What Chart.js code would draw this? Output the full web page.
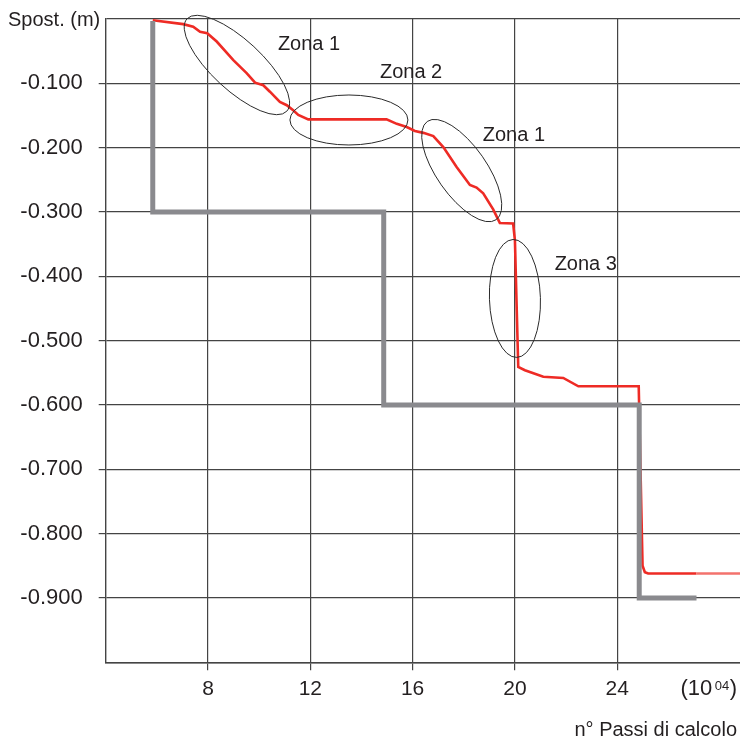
<!DOCTYPE html>
<html>
<head>
<meta charset="utf-8">
<script src="https://cdn.jsdelivr.net/npm/chart.js@4/dist/chart.umd.min.js"></script>
<style>
  html, body { margin: 0; padding: 0; background: #ffffff; }
  #wrap { width: 740px; height: 742px; }
</style>
</head>
<body>
<div id="wrap"><canvas id="c" width="740" height="742"></canvas></div>
<script>
// Computed displacement vs. calculation steps (x 10^4)
const computedSteps = [5.84, 7.03, 7.42, 7.69, 7.97, 8.34, 8.99, 9.51, 9.84, 10.16, 10.42, 10.81,
  11.08, 11.33, 11.53, 11.92, 14.98, 15.38, 15.77, 16.09, 16.42, 16.81, 17.20, 17.72, 18.24,
  18.50, 18.76, 19.15, 19.41, 19.93, 20.00, 20.13, 20.39, 21.11, 21.89, 22.48, 24.84, 24.99,
  25.08, 25.21, 27.10, 28.80];
const computedDisp = [-0.002, -0.008, -0.012, -0.020, -0.022, -0.035, -0.064, -0.084, -0.099,
  -0.103, -0.113, -0.129, -0.134, -0.142, -0.149, -0.156, -0.156, -0.163, -0.168, -0.174,
  -0.177, -0.182, -0.199, -0.230, -0.258, -0.262, -0.271, -0.296, -0.317, -0.318, -0.344,
  -0.541, -0.546, -0.556, -0.558, -0.571, -0.571, -0.850, -0.860, -0.862, -0.862, -0.862];

// Imposed displacement steps
const imposedSteps = [5.84, 5.84, 14.87, 14.87, 24.86, 24.86, 27.10];
const imposedDisp = [-0.003, -0.300, -0.300, -0.600, -0.600, -0.900, -0.900];

// Axis ticks
const xTickValues = [8, 12, 16, 20, 24];
const xTickLabels = ['8', '12', '16', '20', '24'];
const yTickValues = [0, -0.1, -0.2, -0.3, -0.4, -0.5, -0.6, -0.7, -0.8, -0.9, -1.0];
const yTickLabels = ['', '-0.100', '-0.200', '-0.300', '-0.400', '-0.500', '-0.600',
  '-0.700', '-0.800', '-0.900', ''];

// Zone annotations
const zoneNames = ['Zona 1', 'Zona 2', 'Zona 1', 'Zona 3'];

const zoneLayout = [
  { cx: 9.13,  cy: -0.0715, rx: 68, ry: 25, rot: 42.8, lx: 11.95, ly: -0.0482 },
  { cx: 13.51, cy: -0.157,  rx: 59, ry: 25, rot: 0,    lx: 15.94, ly: -0.0918 },
  { cx: 17.92, cy: -0.2356, rx: 60, ry: 25, rot: 55,   lx: 19.96, ly: -0.1893 },
  { cx: 20.00, cy: -0.4344, rx: 59, ry: 25.5, rot: 88.2, lx: 22.77, ly: -0.3904 }
];

const TEXT = '#231f20';
const GRID = '#444444';
const SANS = '"Liberation Sans", Arial, sans-serif';

const zonePlugin = {
  id: 'zones',
  afterDatasetsDraw(chart) {
    const { ctx, scales: { x, y } } = chart;
    ctx.save();
    ctx.strokeStyle = '#2a2a2a';
    ctx.lineWidth = 1;
    ctx.fillStyle = TEXT;
    ctx.font = '20px ' + SANS;
    ctx.textAlign = 'center';
    ctx.textBaseline = 'alphabetic';
    zoneLayout.forEach((z, i) => {
      const cx = x.getPixelForValue(z.cx);
      const cy = y.getPixelForValue(z.cy);
      ctx.beginPath();
      ctx.ellipse(cx, cy, z.rx, z.ry, z.rot * Math.PI / 180, 0, Math.PI * 2);
      ctx.stroke();
      ctx.fillText(zoneNames[i], x.getPixelForValue(z.lx), y.getPixelForValue(z.ly));
    });
    ctx.restore();
  },
  afterDraw(chart) {
    const { ctx, width } = chart;
    ctx.save();
    ctx.fillStyle = TEXT;
    ctx.textBaseline = 'alphabetic';
    // y axis title
    ctx.font = '20px ' + SANS;
    ctx.textAlign = 'left';
    ctx.fillText('Spost. (m)', 8, 26);
    // x unit: (10^04)
    ctx.textAlign = 'right';
    ctx.font = '22px ' + SANS;
    const right = width - 3;
    ctx.fillText(')', right, 695);
    const wClose = ctx.measureText(')').width;
    ctx.font = '13px ' + SANS;
    ctx.fillText('04', right - wClose - 0.5, 690);
    const wSup = ctx.measureText('04').width;
    ctx.font = '22px ' + SANS;
    ctx.fillText('(10', right - wClose - wSup - 3, 695);
    // x axis title
    ctx.font = '20px ' + SANS;
    ctx.fillText('n\u00b0 Passi di calcolo', right, 736);
    ctx.restore();
  }
};

new Chart(document.getElementById('c'), {
  type: 'line',
  data: {
    datasets: [
      {
        label: 'imposed',
        data: imposedSteps.map((s, i) => ({ x: s, y: imposedDisp[i] })),
        borderColor: '#8a8a8e',
        borderWidth: 5,
        pointRadius: 0,
        tension: 0,
        fill: false,
        order: 0
      },
      {
        label: 'computed',
        data: computedSteps.map((s, i) => ({ x: s, y: computedDisp[i] })),
        borderColor: '#ee2b25',
        borderWidth: 2.6,
        pointRadius: 0,
        tension: 0,
        fill: false,
        order: 1,
        segment: {
          borderColor: c => (c.p0.parsed.x >= 27.1 ? '#f3726c' : '#ee2b25')
        }
      }
    ]
  },
  options: {
    responsive: false,
    devicePixelRatio: 1,
    animation: false,
    events: [],
    layout: { padding: { top: 19, left: 0, right: 0, bottom: 0 } },
    plugins: { legend: { display: false }, tooltip: { enabled: false } },
    scales: {
      x: {
        type: 'linear',
        min: 4,
        max: 28.8,
        afterBuildTicks: s => { s.ticks = xTickValues.map(v => ({ value: v })); },
        afterFit: s => { s.height = 79.7; s.paddingLeft = 0; s.paddingRight = 0; },
        ticks: {
          autoSkip: false,
          maxRotation: 0,
          padding: 6,
          color: TEXT,
          font: { family: SANS, size: 21 },
          callback: v => xTickLabels[xTickValues.indexOf(v)]
        },
        grid: { color: GRID, lineWidth: 1.2, tickLength: 8, tickColor: GRID },
        border: { display: true, color: GRID, width: 1.4 }
      },
      y: {
        type: 'linear',
        min: -1.0,
        max: 0,
        afterBuildTicks: s => { s.ticks = yTickValues.map(v => ({ value: v })); },
        afterFit: s => { s.width = 105.7; s.paddingTop = 0; s.paddingBottom = 0; },
        ticks: {
          autoSkip: false,
          padding: 16,
          color: TEXT,
          font: { family: SANS, size: 22 },
          callback: (v, i) => yTickLabels[i]
        },
        grid: {
          color: GRID,
          lineWidth: 1.2,
          tickLength: 7,
          tickColor: c => (yTickLabels[c.index] ? GRID : 'rgba(0,0,0,0)')
        },
        border: { display: true, color: GRID, width: 1.4 }
      }
    }
  },
  plugins: [zonePlugin]
});
</script>
</body>
</html>
